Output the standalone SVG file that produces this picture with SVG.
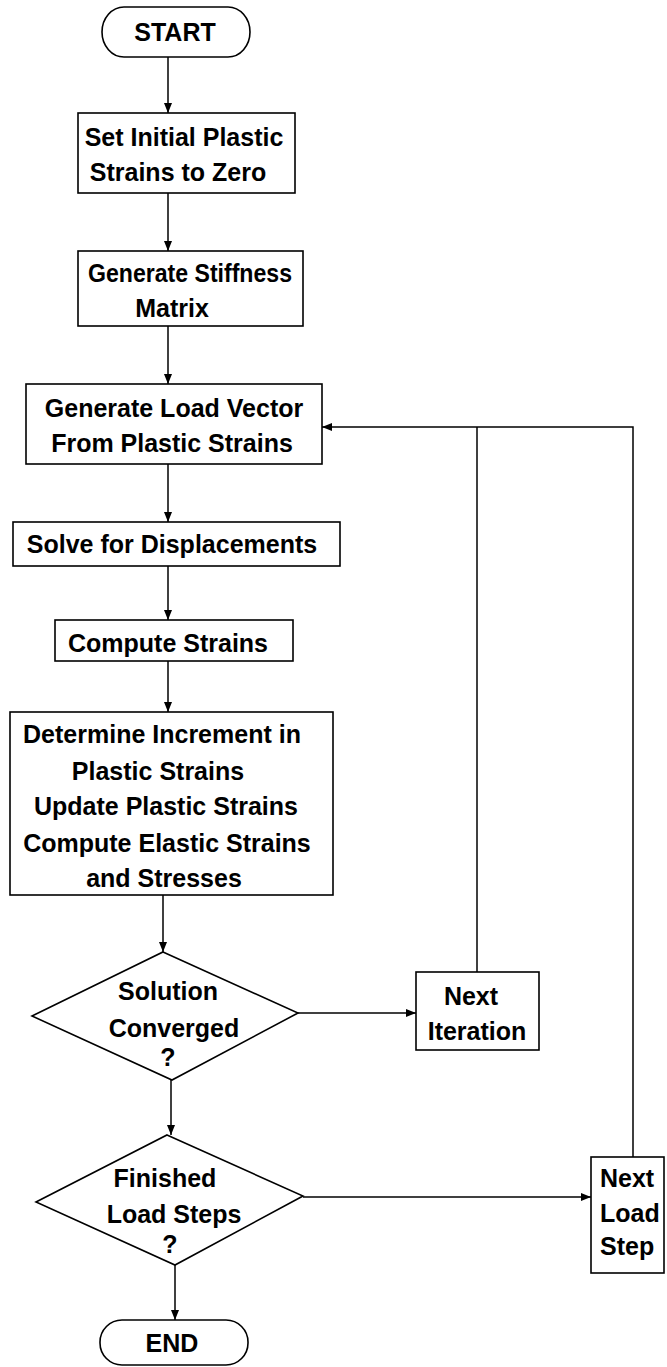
<svg xmlns="http://www.w3.org/2000/svg" width="667" height="1367" viewBox="0 0 667 1367">
  <style>
    .shape { fill: #fff; stroke: #000; stroke-width: 1.6; }
    .edge { fill: none; stroke: #000; stroke-width: 1.5; }
    .label { font-family: "Liberation Sans", Arial, Helvetica, sans-serif; font-size: 25px; font-weight: bold; fill: #000; }
    .mid { text-anchor: middle; }
  </style>
  <defs>
    <marker id="arrow" viewBox="0 0 10 8" refX="10" refY="4" markerWidth="10" markerHeight="8" markerUnits="userSpaceOnUse" orient="auto">
      <path d="M0 0 L10 4 L0 8 Z" fill="#000"/>
    </marker>
  </defs>

  <!-- connectors -->
  <g id="connectors">
    <path class="edge" d="M168 57 V113" marker-end="url(#arrow)"/>
    <path class="edge" d="M168 193 V251" marker-end="url(#arrow)"/>
    <path class="edge" d="M168 326 V384" marker-end="url(#arrow)"/>
    <path class="edge" d="M168 464 V522" marker-end="url(#arrow)"/>
    <path class="edge" d="M168 566 V620" marker-end="url(#arrow)"/>
    <path class="edge" d="M168 661 V712" marker-end="url(#arrow)"/>
    <path class="edge" d="M163 895 V952" marker-end="url(#arrow)"/>
    <path class="edge" d="M298 1013 H416" marker-end="url(#arrow)"/>
    <path class="edge" d="M171 1080 V1135" marker-end="url(#arrow)"/>
    <path class="edge" d="M303 1197 H591" marker-end="url(#arrow)"/>
    <path class="edge" d="M175 1265 V1320" marker-end="url(#arrow)"/>
    <path class="edge" d="M477 972 V427"/>
    <path class="edge" d="M633 1157 V427 H322" marker-end="url(#arrow)"/>
  </g>

  <g id="start">
    <rect class="shape" x="102" y="7" width="148" height="50" rx="22" ry="25"/>
    <text class="label mid" x="175" y="41">START</text>
  </g>

  <g id="set-initial">
    <rect class="shape" x="78" y="113" width="217" height="80"/>
    <text class="label mid" x="184" y="146">Set Initial Plastic</text>
    <text class="label mid" x="178" y="181">Strains to Zero</text>
  </g>

  <g id="stiffness">
    <rect class="shape" x="78" y="251" width="225" height="75"/>
    <text class="label mid" x="190" y="282" textLength="204" lengthAdjust="spacingAndGlyphs">Generate Stiffness</text>
    <text class="label mid" x="172" y="317">Matrix</text>
  </g>

  <g id="load-vector">
    <rect class="shape" x="26" y="384" width="296" height="80"/>
    <text class="label mid" x="174" y="417">Generate Load Vector</text>
    <text class="label mid" x="172" y="452">From Plastic Strains</text>
  </g>

  <g id="displacements">
    <rect class="shape" x="13" y="522" width="327" height="44"/>
    <text class="label mid" x="172" y="553">Solve for Displacements</text>
  </g>

  <g id="strains">
    <rect class="shape" x="55" y="620" width="238" height="41"/>
    <text class="label mid" x="168" y="652">Compute Strains</text>
  </g>

  <g id="plastic-update">
    <rect class="shape" x="10" y="712" width="323" height="183"/>
    <text class="label mid" x="162" y="743">Determine Increment in</text>
    <text class="label mid" x="158" y="780">Plastic Strains</text>
    <text class="label mid" x="166" y="815">Update Plastic Strains</text>
    <text class="label mid" x="167" y="852">Compute Elastic Strains</text>
    <text class="label mid" x="164" y="887">and Stresses</text>
  </g>

  <g id="converged">
    <polygon class="shape" points="163,952 298,1013 172,1080 32,1016"/>
    <text class="label mid" x="168" y="1000">Solution</text>
    <text class="label mid" x="174" y="1037">Converged</text>
    <text class="label mid" x="168" y="1066">?</text>
  </g>

  <g id="next-iteration">
    <rect class="shape" x="416" y="972" width="123" height="78"/>
    <text class="label mid" x="471" y="1005">Next</text>
    <text class="label mid" x="477" y="1040">Iteration</text>
  </g>

  <g id="finished">
    <polygon class="shape" points="167,1135 303,1196 175,1265 36,1202"/>
    <text class="label mid" x="165" y="1187">Finished</text>
    <text class="label mid" x="174" y="1223">Load Steps</text>
    <text class="label mid" x="170" y="1253">?</text>
  </g>

  <g id="next-load-step">
    <rect class="shape" x="591" y="1157" width="73" height="116"/>
    <text class="label" x="600" y="1187">Next</text>
    <text class="label" x="600" y="1222">Load</text>
    <text class="label" x="600" y="1255">Step</text>
  </g>

  <g id="end">
    <rect class="shape" x="100" y="1320" width="148" height="45" rx="22" ry="22"/>
    <text class="label mid" x="172" y="1352">END</text>
  </g>
</svg>
